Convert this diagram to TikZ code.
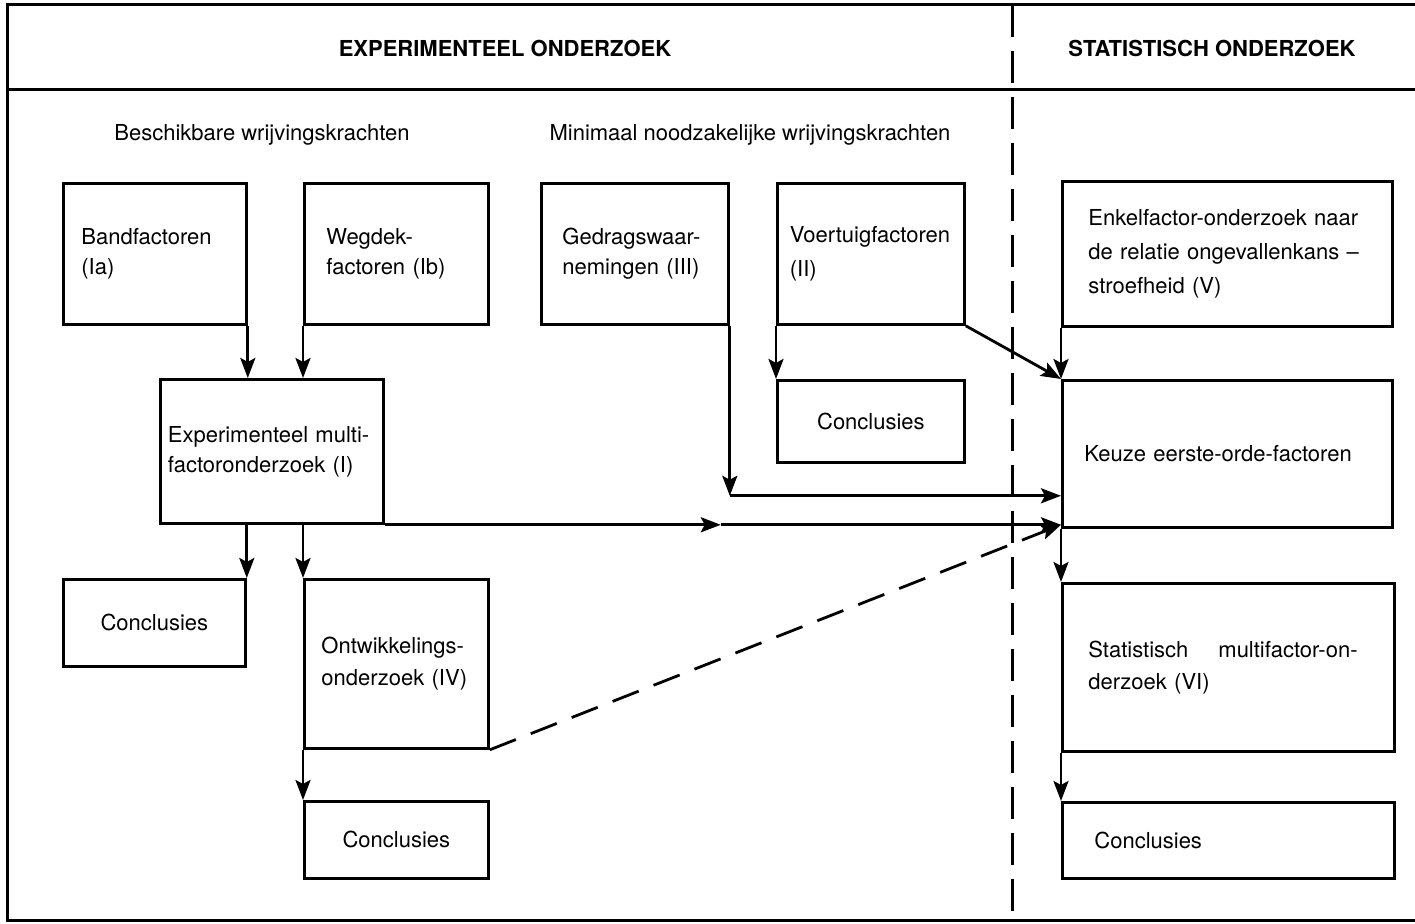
\documentclass[tikz,border=0pt]{standalone}
\usepackage{fontspec}
\setmainfont{TeX Gyre Heros}
\usepackage{tikz}
\usetikzlibrary{arrows.meta}

\begin{document}
\begin{tikzpicture}[x=0.5pt, y=-0.5pt,
    box/.style={draw, line width=1.4pt, anchor=north west, inner sep=0pt, align=left,
        font=\fontsize{11}{15}\selectfont},
    flow/.style={line width=1.4pt, -{Stealth[length=10pt, width=7.5pt, inset=2pt]}},
    head/.style={font=\fontsize{11}{13}\selectfont\bfseries},
    sub/.style={font=\fontsize{11}{13}\selectfont}]
    \useasboundingbox (0,0) rectangle (1415,924);

    % Frame and header band
    \draw[line width=1.5pt] (1415,5) -- (7,5) -- (7,921) -- (1415,921);
    \draw[line width=1.5pt] (7,90) -- (1415,90);
    \draw[line width=1.5pt, dash pattern=on 16pt off 7pt] (1012,5) -- (1012,921);

    % Headers
    \node[head] (hexp) at (505,48) {EXPERIMENTEEL ONDERZOEK};
    \node[head] (hstat) at (1212,48) {STATISTISCH ONDERZOEK};
    \node[sub] (lbesch) at (262,135) {Beschikbare wrijvingskrachten};
    \node[sub] (lmin) at (750,135) {Minimaal noodzakelijke wrijvingskrachten};

    % Top row
    \node[box, minimum width=91.5pt, minimum height=70.5pt, text width=73.5pt] (band) at (62,182) {Bandfactoren\\(Ia)};
    \node[box, minimum width=92pt, minimum height=70.5pt, text width=70pt] (weg) at (303,182) {Wegdek-\\factoren (Ib)};
    \node[box, minimum width=93.5pt, minimum height=70.5pt, text width=72.5pt] (gedrag) at (540,182) {Gedragswaar-\\nemingen (III)};
    \node[box, minimum width=93.5pt, minimum height=70.5pt, text width=81pt,
        font=\fontsize{11}{17}\selectfont] (voert) at (776,182) {Voertuigfactoren\\(II)};
    \node[box, minimum width=165pt, minimum height=72.5pt, text width=139pt,
        font=\fontsize{11}{17}\selectfont] (enkel) at (1061,180) {Enkelfactor-onderzoek naar\\de relatie ongevallenkans --\\stroefheid (V)};

    % Middle row
    \node[box, minimum width=111.5pt, minimum height=72pt, text width=104pt] (exp) at (159,378) {Experimenteel multi-\\factoronderzoek (I)};
    \node[box, align=center, minimum width=93.5pt, minimum height=41pt] (concl2) at (776,379) {Conclusies};
    \node[box, minimum width=165pt, minimum height=73.5pt, text width=143pt] (keuze) at (1061,379) {Keuze eerste-orde-factoren};

    % Lower rows
    \node[box, align=center, minimum width=91pt, minimum height=43.5pt] (concl1) at (62,578) {Conclusies};
    \node[box, minimum width=92pt, minimum height=84.5pt, text width=75pt,
        font=\fontsize{11}{16}\selectfont] (ontw) at (303,578) {Ontwikkelings-\\onderzoek (IV)};
    \node[box, minimum width=166pt, minimum height=84pt, text width=140pt,
        font=\fontsize{11}{16}\selectfont] (stat) at (1061,582) {Statistisch\hspace{15pt}multifactor-on-\\derzoek (VI)};
    \node[box, align=center, minimum width=92pt, minimum height=38.5pt] (concl3) at (303,800) {Conclusies};
    \node[box, minimum width=166pt, minimum height=38pt, text width=134pt] (concl4) at (1061,801) {Conclusies};

    % Bend points
    \path (exp.south east) ++(336,0) coordinate (emid);
    \path (gedrag.south east) ++(0,170) coordinate (gbend);

    % Connectors
    \draw[flow] (band.south east) -- (band.south east |- exp.north);
    \draw[flow] (weg.south west) -- (weg.south west |- exp.north);
    \draw[flow] (concl1.north east |- exp.south) -- (concl1.north east);
    \draw[flow] (ontw.north west |- exp.south) -- (ontw.north west);
    \draw[flow] (ontw.south west) -- (concl3.north west);
    \draw[flow] (exp.south east) -- (emid);
    \draw[flow] (emid) -- (keuze.west |- emid);
    \draw[flow] (gedrag.south east) -- (gbend);
    \draw[flow] (gbend) -- (keuze.west |- gbend);
    \draw[flow] (voert.south west) -- (concl2.north west);
    \draw[flow] (voert.south east) -- (keuze.north west);
    \draw[flow] (enkel.south west) -- (keuze.north west);
    \draw[flow] (keuze.south west) -- (stat.north west);
    \draw[flow] (stat.south west) -- (concl4.north west);
    \draw[flow, dash pattern=on 14pt off 8pt] (ontw.south east) -- (keuze.west |- emid);
\end{tikzpicture}
\end{document}
